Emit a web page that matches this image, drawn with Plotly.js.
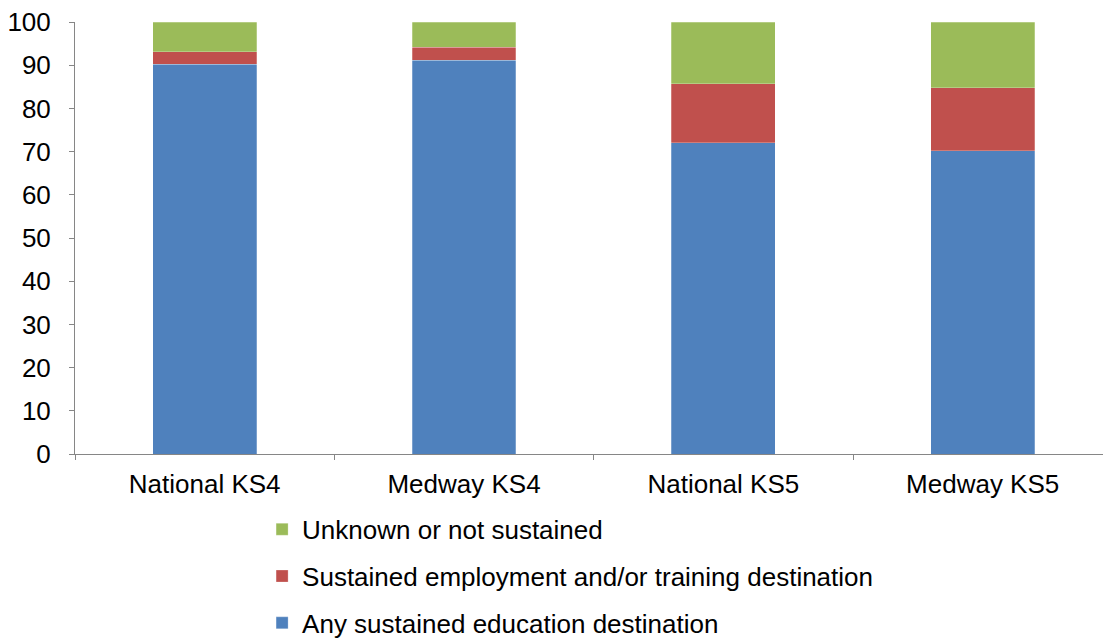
<!DOCTYPE html>
<html>
<head>
<meta charset="utf-8">
<script src="https://cdn.plot.ly/plotly-3.0.1.min.js"></script>
<style>html,body{margin:0;padding:0;background:#fff;}#chart{width:1103px;height:639px;}</style>
</head>
<body>
<div id="chart"></div>
<script>
const categories = ["National KS4", "Medway KS4", "National KS5", "Medway KS5"];
const education = [90.2, 91.1, 72.1, 70.2];
const employment = [2.9, 3.1, 13.6, 14.6];
const unknown = [6.9, 5.8, 14.3, 15.2];
const yTicks = [0, 10, 20, 30, 40, 50, 60, 70, 80, 90, 100];

const seriesNames = ["Any sustained education destination", "Sustained employment and/or training destination", "Unknown or not sustained"];
const seriesColors = ["#4F81BD", "#C0504D", "#9BBB59"];
const seriesValues = [education, employment, unknown];

const traces = seriesValues.map((vals, i) => ({
  type: "bar",
  x: categories,
  y: vals,
  name: seriesNames[i],
  legendgroup: "g" + i,
  legendrank: 3 - i,
  marker: {color: seriesColors[i], line: {color: "rgba(255,255,255,0.5)", width: 0.5}},
  width: 0.4,
  hoverinfo: "y+name"
}));

const layout = {
  width: 1103, height: 639,
  barmode: "stack",
  paper_bgcolor: "#fff", plot_bgcolor: "#fff",
  font: {family: "Liberation Sans, Arial, sans-serif", size: 26, color: "#000"},
  margin: {l: 75, r: 0, t: 22, b: 185, autoexpand: false},
  showlegend: true,
  legend: {
    orientation: "v", traceorder: "grouped", tracegroupgap: 10,
    x: 0.182, xanchor: "left", y: -0.12, yanchor: "top",
    font: {size: 26, color: "#000"}, itemwidth: 30
  },
  xaxis: {
    type: "category", range: [-0.5, 3.464],
    showline: true, linecolor: "#868686", linewidth: 1,
    ticks: "outside", ticklen: 5, tickcolor: "#868686", tickson: "boundaries",
    showgrid: false, zeroline: false, fixedrange: true, automargin: false,
    ticklabelstandoff: 7,
    tickfont: {size: 26, color: "#000"}
  },
  yaxis: {
    range: [0, 100], tickvals: yTicks, ticktext: yTicks.map(String),
    showline: true, linecolor: "#868686", linewidth: 1,
    ticks: "outside", ticklen: 5, tickcolor: "#868686",
    showgrid: false, zeroline: false, fixedrange: true, automargin: false,
    ticklabelstandoff: 13,
    tickfont: {size: 26, color: "#000"}
  }
};

Plotly.newPlot("chart", traces, layout, {displayModeBar: false, staticPlot: true});
</script>
</body>
</html>
